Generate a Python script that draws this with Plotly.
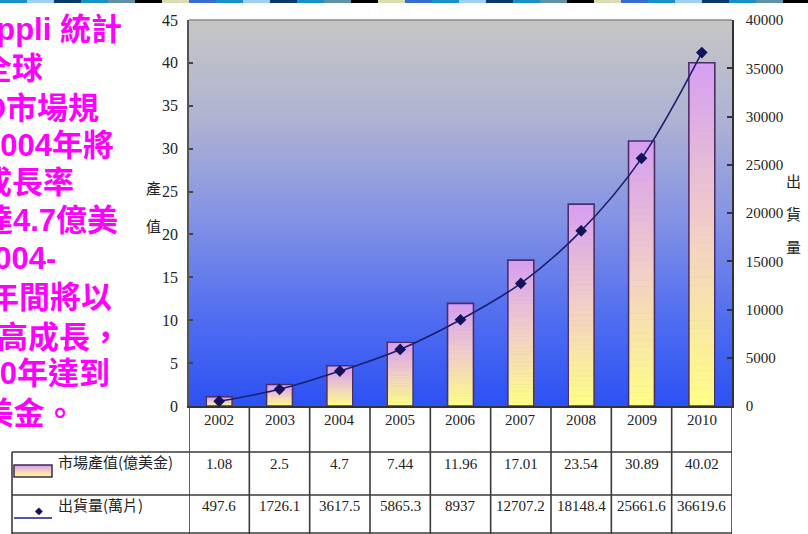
import base64
import plotly.graph_objects as go

# ---------------- data ----------------
years = ["2002", "2003", "2004", "2005", "2006", "2007", "2008", "2009", "2010"]
market_value = [1.08, 2.5, 4.7, 7.44, 11.96, 17.01, 23.54, 30.89, 40.02]        # 億美金
shipments = [497.6, 1726.1, 3617.5, 5865.3, 8937, 12707.2, 18148.4, 25661.6, 36619.6]  # 萬片
series_names = ["市場產值(億美金)", "出貨量(萬片)"]
left_title = ["產", "值"]
right_title = ["出", "貨", "量"]
side_text = [
    "iSuppli 統計", "顯示全球", "OLED市場規", "模2004年將", "年成長率",
    "規模達4.7億美", "元，2004-", "2010年間將以", "驚人的高成長，", "2010年達到", "40億美金。",
]

# ---------------- geometry helpers (pixel -> paper) ----------------
W, H = 808, 534
L, R, T, B = 189, 732, 20, 406


def px(x):
    return (x - L) / (R - L)


def py(y):
    return (B - y) / (B - T)


def hexrgb(h):
    h = h.lstrip("#")
    return tuple(int(h[i:i + 2], 16) for i in (0, 2, 4))


def mix(c1, c2, t):
    a, b = hexrgb(c1), hexrgb(c2)
    return "rgb(%d,%d,%d)" % tuple(round(a[i] + (b[i] - a[i]) * t) for i in range(3))


def svg_uri(stops):
    st = "".join('<stop offset="%s" stop-color="%s"/>' % (o, c) for o, c in stops)
    svg = ('<svg xmlns="http://www.w3.org/2000/svg" width="100" height="100" preserveAspectRatio="none">'
           '<defs><linearGradient id="g" x1="0" y1="0" x2="0" y2="1">%s</linearGradient></defs>'
           '<rect width="100" height="100" fill="url(#g)"/></svg>') % st
    return "data:image/svg+xml;base64," + base64.b64encode(svg.encode()).decode()


fig = go.Figure()

# ---------------- gradient bars (stacked slices of each value) ----------------
N = 40
bottom_c, mid_c, top_c = "#ffff84", "#f2cfc6", "#d69ef2"
for k in range(N):
    t = (k + 0.5) / N
    col = mix(bottom_c, mid_c, t / 0.5) if t < 0.5 else mix(mid_c, top_c, (t - 0.5) / 0.5)
    fig.add_trace(go.Bar(
        x=years, y=[v / N for v in market_value], base=[v * k / N for v in market_value],
        marker=dict(color=col, line=dict(width=0.8, color=col)), width=0.43,
        showlegend=False, hoverinfo="skip", yaxis="y"))
fig.add_trace(go.Bar(
    x=years, y=market_value, base=[0] * len(years), name=series_names[0],
    marker=dict(color="rgba(0,0,0,0)", line=dict(color="#4a2f66", width=1.6)),
    width=0.43, showlegend=False, yaxis="y"))

# ---------------- shipment line ----------------
fig.add_trace(go.Scatter(
    x=years, y=shipments, name=series_names[1], yaxis="y2", mode="lines+markers",
    line=dict(color="#1c1f6e", width=1.6, shape="spline"),
    marker=dict(symbol="diamond", size=9, color="#14125a"), showlegend=False))

serif = "Liberation Serif"
cjk = "Noto Sans CJK TC"

fig.update_layout(
    width=W, height=H, margin=dict(l=L, r=W - R, t=T, b=H - B),
    paper_bgcolor="white", plot_bgcolor="rgba(0,0,0,0)",
    barmode="overlay", showlegend=False,
    xaxis=dict(type="category", range=[-0.5, 8.5], showticklabels=False, ticks="",
               showline=True, linecolor="#333", linewidth=1.5, showgrid=False, zeroline=False),
    yaxis=dict(range=[0, 45], dtick=5, ticks="inside", ticklen=4, tickwidth=2, tickcolor="#444",
               showline=True, linecolor="#555", linewidth=1.5, showgrid=False, zeroline=False,
               tickfont=dict(family=serif, size=16, color="#222"), ticklabelstandoff=6),
    yaxis2=dict(range=[0, 40000], dtick=5000, overlaying="y", side="right", ticks="inside",
                ticklen=5, tickwidth=2, tickcolor="#333", showline=True, linecolor="#333",
                linewidth=1.5, showgrid=False, zeroline=False, tickformat="d",
                tickfont=dict(family=serif, size=15, color="#222"), ticklabelstandoff=9),
)

images = [
    dict(source=svg_uri([("0", "#c6c6c6"), ("0.25", "#b0b3d2"), ("0.5", "#8694e4"),
                         ("0.78", "#4f6cf0"), ("1", "#2c51f4")]),
         xref="paper", yref="paper", x=0, y=1, sizex=1, sizey=1,
         sizing="stretch", layer="below", xanchor="left", yanchor="top"),
    dict(source=svg_uri([("0", top_c), ("0.5", mid_c), ("1", bottom_c)]),
         xref="paper", yref="paper", x=px(14), y=py(465), sizex=px(52) - px(14),
         sizey=py(465) - py(477), sizing="stretch", layer="above",
         xanchor="left", yanchor="top"),
]
fig.update_layout(images=images)

shapes = []
line_c = dict(color="#3a3a3a", width=1.6)
# top border of plot area
shapes.append(dict(type="line", xref="paper", yref="paper", x0=0, x1=1, y0=1, y1=1,
                   line=dict(color="#8a8a8a", width=1.5)))
# table horizontal rules
for yy in (452, 495, 533):
    shapes.append(dict(type="line", xref="paper", yref="paper", x0=px(12), x1=1,
                       y0=py(yy), y1=py(yy), line=line_c))
# table vertical rules (category boundaries)
for i in range(len(years) + 1):
    shapes.append(dict(type="line", xref="x", yref="paper", x0=i - 0.5, x1=i - 0.5,
                       y0=py(B), y1=py(534), line=line_c))
shapes.append(dict(type="line", xref="paper", yref="paper", x0=px(12), x1=px(12),
                   y0=py(452), y1=py(534), line=line_c))
# legend symbols
shapes.append(dict(type="rect", xref="paper", yref="paper", x0=px(14), x1=px(52),
                   y0=py(465), y1=py(477), line=dict(color="#3a2a50", width=1.5)))
shapes.append(dict(type="line", xref="paper", yref="paper", x0=px(14), x1=px(52),
                   y0=py(518), y1=py(518), line=dict(color="#1c1f6e", width=1.6)))

# decorative top strip
strip = ["#1890c8", "#a0cff0", "#0b3a6a", "#1890c8", "#6090a8", "#000000", "#dcdcb4", "#3a6cd0"]
segw = 27
for j in range(W // segw + 1):
    x0 = j * segw
    shapes.append(dict(type="rect", xref="paper", yref="paper", x0=px(x0), x1=px(min(x0 + segw, W)),
                       y0=py(0), y1=py(3), line=dict(width=0),
                       fillcolor=strip[j % len(strip)]))
fig.update_layout(shapes=shapes)

ann = []
tf = dict(family=serif, size=15, color="#222")
for i, yr in enumerate(years):
    ann.append(dict(x=i, y=py(430), xref="x", yref="paper", text=yr, showarrow=False, font=tf))
    ann.append(dict(x=i, y=py(474), xref="x", yref="paper", text=f"{market_value[i]:g}",
                    showarrow=False, font=tf))
    ann.append(dict(x=i, y=py(516), xref="x", yref="paper", text=f"{shipments[i]:g}",
                    showarrow=False, font=tf))
lf = dict(family=cjk, size=15, color="#222")
ann.append(dict(x=px(56), y=py(474), xref="paper", yref="paper", text=series_names[0],
                showarrow=False, xanchor="left", font=lf))
ann.append(dict(x=px(56), y=py(517), xref="paper", yref="paper", text=series_names[1],
                showarrow=False, xanchor="left", font=lf))
ann.append(dict(x=px(33), y=py(518), xref="paper", yref="paper", text="◆",
                showarrow=False, font=dict(size=10, color="#14125a", family="DejaVu Sans")))
# axis titles (vertical, stacked characters)
for ch, yy in zip(left_title, (187, 225)):
    ann.append(dict(x=px(144), y=py(yy), xref="paper", yref="paper", text=ch,
                    showarrow=False, font=dict(family=cjk, size=15, color="#222")))
for ch, yy in zip(right_title, (180, 213, 246)):
    ann.append(dict(x=px(803), y=py(yy), xref="paper", yref="paper", text=ch,
                    showarrow=False, font=dict(family=cjk, size=15, color="#222")))
# magenta side text (partly cut by the left edge)
rights = [124, 45, 101, 116, 76, 120, 58, 114, 123, 112, 77]
centers = [30, 68, 108, 145, 183, 220, 258, 297, 337, 373, 413]
for txt, rx, cy in zip(side_text, rights, centers):
    ann.append(dict(x=px(rx), y=py(cy), xref="paper", yref="paper", text="<b>" + txt + "</b>",
                    showarrow=False, xanchor="right", yanchor="middle",
                    font=dict(family="Liberation Sans, " + cjk, size=31, color="#ff00ff")))
fig.update_layout(annotations=ann)

fig.write_html("out.html")
